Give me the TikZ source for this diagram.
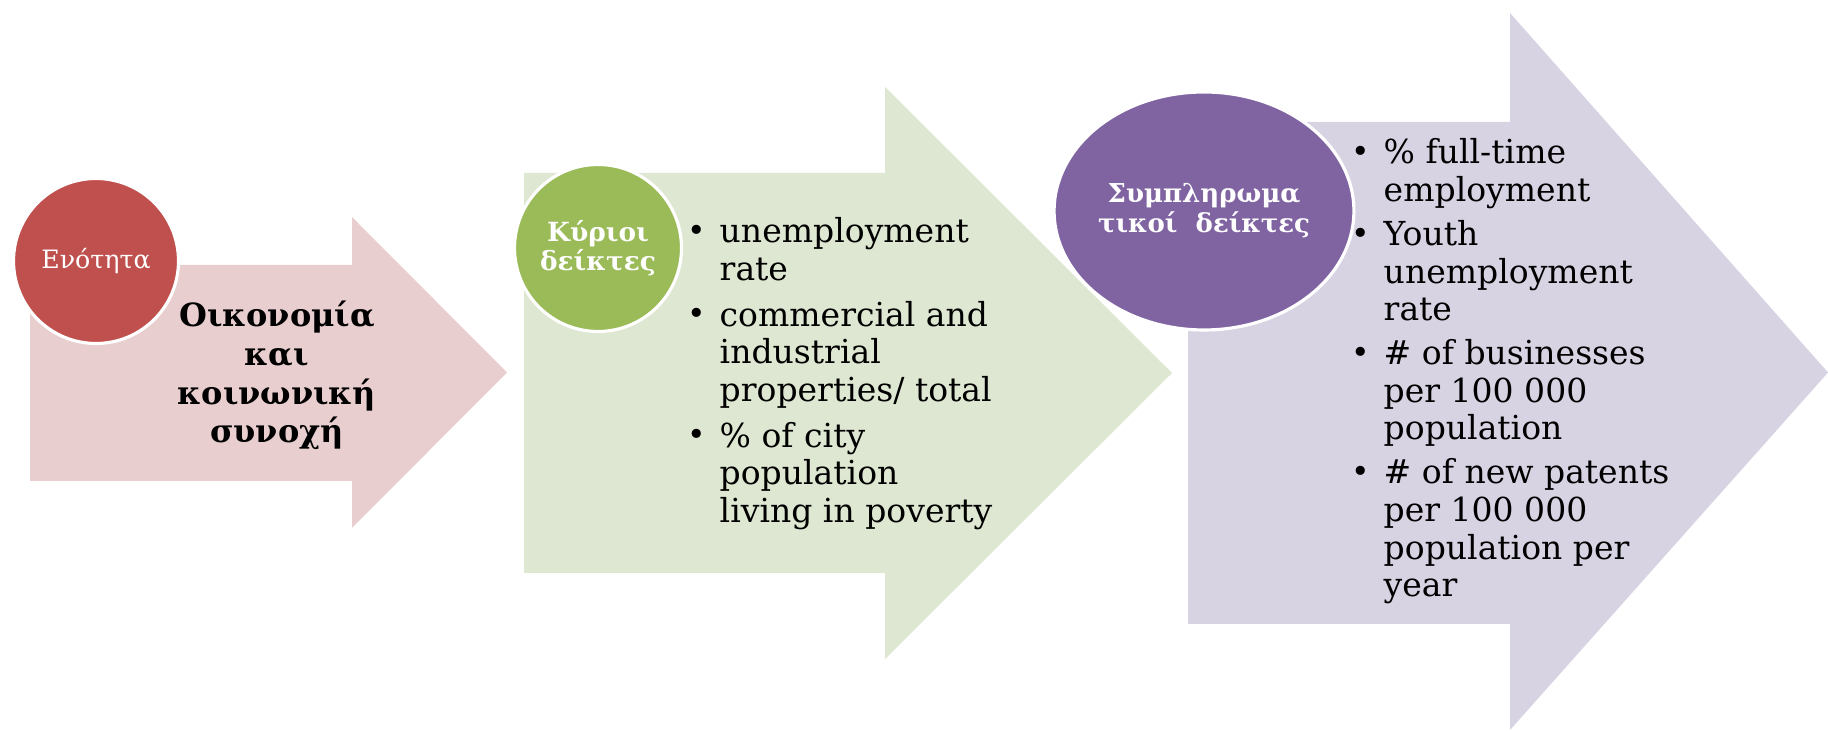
\documentclass[tikz,border=0pt]{standalone}
\usepackage{fontspec}
\setmainfont{DejaVu Serif}
\usetikzlibrary{shapes.geometric}
\definecolor{enred}{HTML}{C0504D}
\definecolor{enpink}{HTML}{E8CECE}
\definecolor{kygreen}{HTML}{9BBB59}
\definecolor{kylight}{HTML}{DEE7D1}
\definecolor{sypurple}{HTML}{8064A2}
\definecolor{sylight}{HTML}{D7D3E3}
\newcommand{\bl}{\llap{\raisebox{0.04em}{\scalebox{0.95}{\textbullet}}\hspace{4pt}}}
\tikzset{
  badge/.style={circle, draw=white, line width=0.9pt, text=white, inner sep=0pt, align=center},
  listtxt/.style={anchor=base west, inner sep=0pt, font=\fontsize{9.4}{10.7}\selectfont},
}
\begin{document}
\begin{tikzpicture}
        \useasboundingbox (0,0) rectangle (18.28,7.31);
        % the three arrows
        \fill[enpink] (0.30,2.50) -- (3.52,2.50) -- (3.52,2.03) -- (5.07,3.585) -- (3.52,5.14) -- (3.52,4.66) -- (0.30,4.66) -- cycle;
        \fill[kylight] (5.24,1.58) -- (8.85,1.58) -- (8.85,0.72) -- (11.72,3.58) -- (8.85,6.44) -- (8.85,5.58) -- (5.24,5.58) -- cycle;
        \fill[sylight] (11.88,1.07) -- (15.10,1.07) -- (15.10,0.01) -- (18.28,3.585) -- (15.10,7.18) -- (15.10,6.09) -- (11.88,6.09) -- cycle;
        % badges
        \node[badge, fill=enred, minimum size=1.65cm, font=\fontsize{7.2}{8.5}\selectfont] (enotita) at (0.96,4.70) {Ενότητα};
        \node[badge, fill=kygreen, minimum size=1.67cm, font=\bfseries\fontsize{7.5}{8.2}\selectfont] (kyrioi) at (5.98,4.83) {Κύριοι\\δείκτες};
        \node[badge, ellipse, fill=sypurple, minimum width=2.92cm, minimum height=2.38cm, font=\bfseries\fontsize{7.4}{8.5}\selectfont] (sympl) at (12.04,5.20) {Συμπληρωμα\\τικοί\ \ δείκτες};
        % texts
        \node[anchor=base, inner sep=0pt, font=\bfseries\fontsize{9.1}{11}\selectfont] (oikonomia) at (2.77,4.04)
          {\begin{tabular}[t]{@{}c@{}}Οικονομία\\και\\κοινωνική\\συνοχή\end{tabular}};
        \node[listtxt] (kyriolist) at (7.19,4.88)
          {\begin{tabular}[t]{@{}l@{}}\bl unemployment\\rate\\[2.3pt]\bl commercial and\\industrial\\properties/ total\\[2.3pt]\bl \% of city\\population\\living in poverty\end{tabular}};
        \node[listtxt] (sympllist) at (13.83,5.67)
          {\begin{tabular}[t]{@{}l@{}}\bl \% full-time\\employment\\[1.8pt]\bl Youth\\unemployment\\rate\\[1.8pt]\bl \# of businesses\\per 100 000\\population\\[1.8pt]\bl \# of new patents\\per 100 000\\population per\\year\end{tabular}};
    \end{tikzpicture}
\end{document}
